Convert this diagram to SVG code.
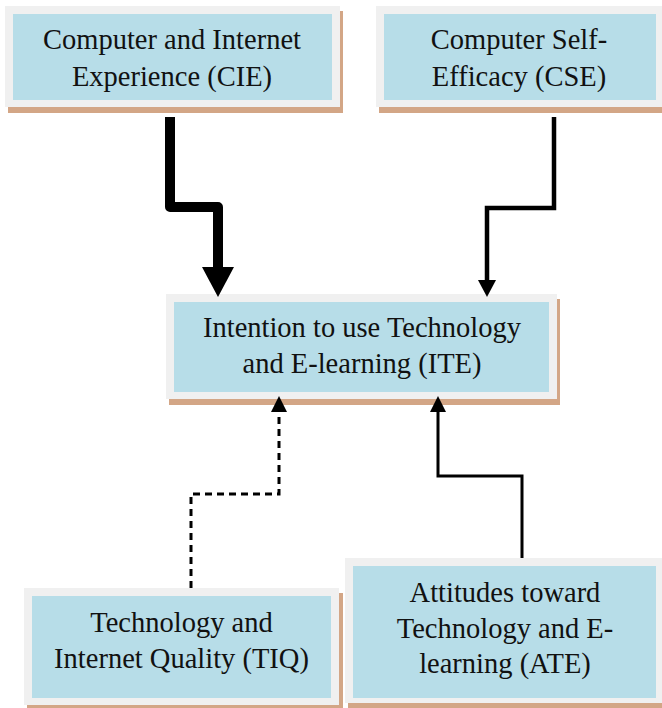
<svg xmlns="http://www.w3.org/2000/svg" width="662" height="708" viewBox="0 0 662 708">
  <style>
    .shadow { fill: #d3a686; }
    .frame { fill: #f0f0f0; }
    .body { fill: #b7dde8; }
    .label { font-family: "Liberation Serif", "Times New Roman", serif; font-size: 28.5px; fill: #111; text-anchor: middle; }
    .wire { fill: none; stroke: #000; }
  </style>
  <defs>
    <marker id="headBig" markerUnits="userSpaceOnUse" viewBox="0 0 30 32" markerWidth="30" markerHeight="32" refX="0" refY="16" orient="auto">
      <path d="M0,0 L30,16 L0,32 z" fill="#000"/>
    </marker>
    <marker id="headMid" markerUnits="userSpaceOnUse" viewBox="0 0 17 18" markerWidth="17" markerHeight="18" refX="0" refY="9" orient="auto">
      <path d="M0,0 L17,9 L0,18 z" fill="#000"/>
    </marker>
    <marker id="headSmall" markerUnits="userSpaceOnUse" viewBox="0 0 16 16" markerWidth="16" markerHeight="16" refX="0" refY="8" orient="auto">
      <path d="M0,0 L16,8 L0,16 z" fill="#000"/>
    </marker>
  </defs>

  <rect width="662" height="708" fill="#fff"/>

  <g id="cie">
    <rect class="shadow" x="8" y="11" width="335" height="102"/>
    <rect class="frame" x="5" y="6" width="335" height="101"/>
    <rect class="body" x="13" y="14" width="319" height="86"/>
    <text class="label" x="172" y="48.5">Computer and Internet</text>
    <text class="label" x="172" y="85.5">Experience (CIE)</text>
  </g>

  <g id="cse">
    <rect class="shadow" x="379" y="11" width="290" height="102"/>
    <rect class="frame" x="376" y="6" width="290" height="101"/>
    <rect class="body" x="384" y="14" width="272" height="86"/>
    <text class="label" x="519" y="48.5">Computer Self-</text>
    <text class="label" x="519" y="85.5">Efficacy (CSE)</text>
  </g>

  <g id="ite">
    <rect class="shadow" x="169" y="299" width="391" height="106"/>
    <rect class="frame" x="166" y="294" width="391" height="105"/>
    <rect class="body" x="174" y="302" width="375" height="90"/>
    <text class="label" x="362" y="337">Intention to use Technology</text>
    <text class="label" x="362" y="373">and E-learning (ITE)</text>
  </g>

  <g id="tiq">
    <rect class="shadow" x="27" y="593" width="316" height="120"/>
    <rect class="frame" x="24" y="588" width="315" height="117"/>
    <rect class="body" x="32" y="596" width="299" height="102"/>
    <text class="label" x="181.5" y="632">Technology and</text>
    <text class="label" x="181.5" y="668">Internet Quality (TIQ)</text>
  </g>

  <g id="ate">
    <rect class="shadow" x="348" y="563" width="320" height="150"/>
    <rect class="frame" x="345" y="558" width="320" height="145"/>
    <rect class="body" x="353" y="566" width="303" height="132"/>
    <text class="label" x="505" y="602">Attitudes toward</text>
    <text class="label" x="505" y="638">Technology and E-</text>
    <text class="label" x="505" y="673">learning (ATE)</text>
  </g>

  <g id="connectors">
    <path class="wire" d="M170,117 V207 H218 V267" stroke-width="10" stroke-linejoin="round" marker-end="url(#headBig)"/>
    <path class="wire" d="M554,117 V208 H487 V280" stroke-width="4.5" marker-end="url(#headMid)"/>
    <path class="wire" d="M191,588 V494 H279 V412" stroke-width="3" stroke-dasharray="7 5" marker-end="url(#headSmall)"/>
    <path class="wire" d="M522,558 V476 H438 V412" stroke-width="3" marker-end="url(#headSmall)"/>
  </g>
</svg>
